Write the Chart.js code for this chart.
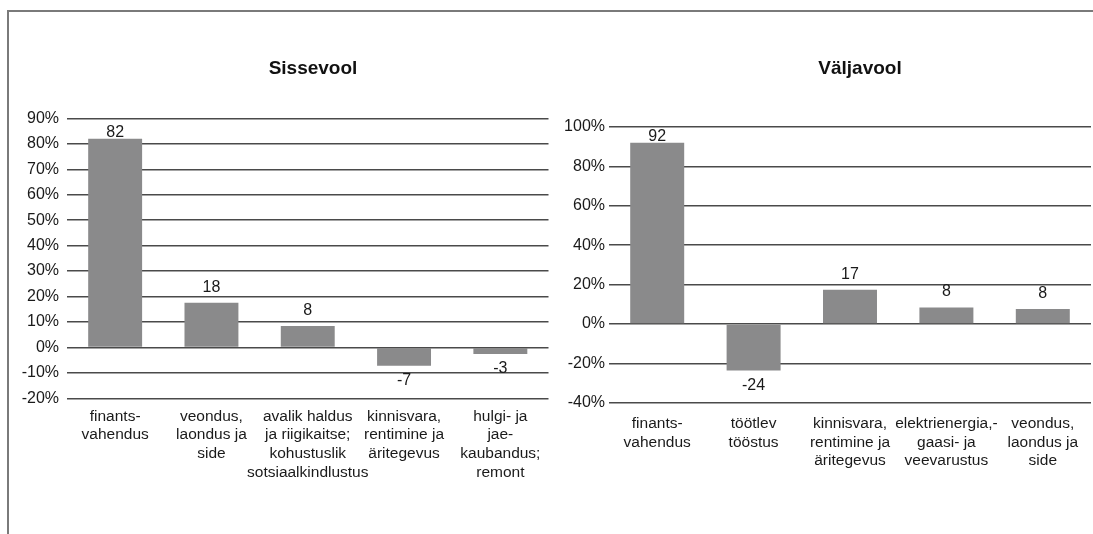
<!DOCTYPE html>
<html lang="et">
<head>
<meta charset="utf-8">
<title>Sissevool ja väljavool</title>
<script src="https://cdn.jsdelivr.net/npm/chart.js@4"></script>
<style>
  html, body { margin: 0; padding: 0; background: #fff; overflow: hidden; }
  #wrap { position: relative; width: 1093px; height: 534px; }
  #frame { position: absolute; left: 7px; top: 10px; right: 0; bottom: 0;
           border-top: 2px solid #7a7a7a; border-left: 2px solid #7a7a7a; }
  canvas { position: absolute; left: 0; top: 0; }
</style>
</head>
<body>
<div id="wrap">
  <div id="frame"></div>
  <canvas id="inChart" width="1093" height="534"></canvas>
  <canvas id="outChart" width="1093" height="534"></canvas>
</div>
<script>
// Sissevool (left panel)
const inTitle = "Sissevool";
const inLabels = [
  ["finants-", "vahendus"],
  ["veondus,", "laondus ja", "side"],
  ["avalik haldus", "ja riigikaitse;", "kohustuslik", "sotsiaalkindlustus"],
  ["kinnisvara,", "rentimine ja", "äritegevus"],
  ["hulgi- ja", "jae-", "kaubandus;", "remont"]
];
const inValues = [82, 17.5, 8.4, -7.2, -2.6];
const inAxis = [-20, 90, 10];   // min, max, step

// Väljavool (right panel)
const outTitle = "Väljavool";
const outLabels = [
  ["finants-", "vahendus"],
  ["töötlev", "tööstus"],
  ["kinnisvara,", "rentimine ja", "äritegevus"],
  ["elektrienergia,-", "gaasi- ja", "veevarustus"],
  ["veondus,", "laondus ja", "side"]
];
const outValues = [92, -23.7, 17.3, 8.4, 7.6];
const outAxis = [-40, 100, 20];

Chart.defaults.font.family = '"Liberation Sans", Arial, sans-serif';
Chart.defaults.color = "#1a1a1a";

// value labels above / below bars
const barValueLabels = {
  id: "barValueLabels",
  afterDatasetsDraw(chart) {
    const ctx = chart.ctx;
    const area = chart.chartArea;
    const vals = chart.data.datasets[0].data;
    ctx.save();
    ctx.font = '16px "Liberation Sans", Arial, sans-serif';
    ctx.fillStyle = "#1a1a1a";
    ctx.textAlign = "center";
    ctx.textBaseline = "alphabetic";
    chart.getDatasetMeta(0).data.forEach((bar, i) => {
      const v = vals[i];
      let y;
      if (v >= 0) {
        y = bar.y - 11;
        if (y - 12 < area.top) y = bar.y - 2;
      } else {
        y = bar.y + 19;
      }
      ctx.fillText(String(Math.round(v)), bar.x, y);
    });
    ctx.restore();
  }
};

// bold panel title
const panelTitle = {
  id: "panelTitle",
  afterDraw(chart, args, opts) {
    const ctx = chart.ctx;
    ctx.save();
    ctx.font = 'bold 19px "Liberation Sans", Arial, sans-serif';
    ctx.fillStyle = "#111";
    ctx.textAlign = "center";
    ctx.textBaseline = "alphabetic";
    ctx.fillText(opts.text, opts.x, opts.y);
    ctx.restore();
  }
};

function makeChart(id, title, labels, values, axis, lay) {
  return new Chart(id, {
    type: "bar",
    data: {
      labels: labels,
      datasets: [{
        data: values,
        backgroundColor: "#8a8a8b",
        categoryPercentage: 1,
        barPercentage: 0.56
      }]
    },
    options: {
      responsive: false,
      animation: false,
      layout: { padding: lay.pad },
      plugins: {
        legend: { display: false },
        tooltip: { enabled: false },
        panelTitle: { text: title, x: lay.titleX, y: 74 }
      },
      scales: {
        x: {
          grid: { display: false },
          border: { display: false },
          afterFit: (s) => { s.height = 100; },
          ticks: {
            autoSkip: false,
            maxRotation: 0,
            minRotation: 0,
            padding: lay.xPad,
            color: "#1a1a1a",
            font: { size: 15.5, lineHeight: 1.2 }
          }
        },
        y: {
          min: axis[0],
          max: axis[1],
          border: { display: false },
          grid: { color: "#4a4a4a", lineWidth: 1.4, drawTicks: false },
          afterFit: (s) => { s.width = lay.yWidth; },
          ticks: {
            stepSize: axis[2],
            padding: lay.yPad,
            color: "#1a1a1a",
            font: { size: 16 },
            callback: (v) => v + "%"
          }
        }
      }
    },
    plugins: [barValueLabels, panelTitle]
  });
}

makeChart("inChart", inTitle, inLabels, inValues, inAxis, {
  pad: { left: 10, right: 544.5, top: 118.3, bottom: 35.7 },
  yWidth: 57, yPad: 8, xPad: 1, titleX: 313
});

makeChart("outChart", outTitle, outLabels, outValues, outAxis, {
  pad: { left: 560, right: 2, top: 127, bottom: 31.3 },
  yWidth: 49, yPad: 4, xPad: 4, titleX: 860
});
</script>
</body>
</html>
